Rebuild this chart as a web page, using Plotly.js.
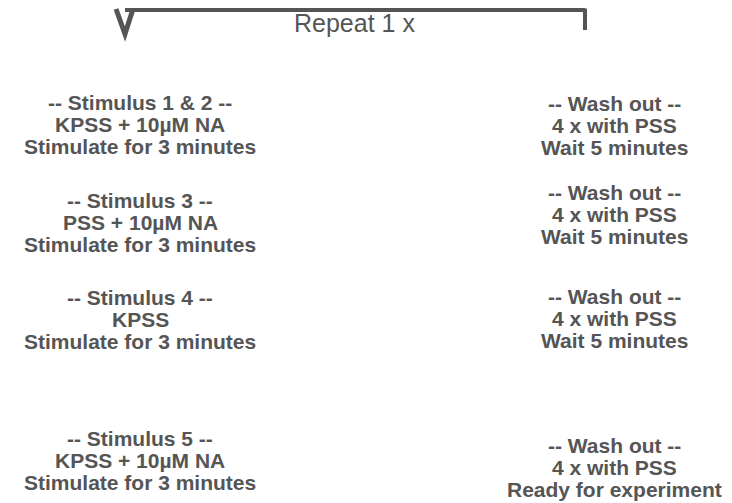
<!DOCTYPE html>
<html>
<head>
<meta charset="utf-8">
<script src="https://cdn.plot.ly/plotly-3.0.1.min.js"></script>
<style>html,body{margin:0;padding:0;background:#fff;} #chart{width:732px;height:503px;}</style>
</head>
<body>
<div id="chart"></div>
<script>
// ---- content ----
const repeatLabel = "Repeat 1 x";
const stimulusTitles = ["-- Stimulus 1 & 2 --", "-- Stimulus 3 --", "-- Stimulus 4 --", "-- Stimulus 5 --"];
const stimulusSolutions = ["KPSS + 10µM NA", "PSS + 10µM NA", "KPSS", "KPSS + 10µM NA"];
const stimulusActions = ["Stimulate for 3 minutes", "Stimulate for 3 minutes", "Stimulate for 3 minutes", "Stimulate for 3 minutes"];
const washTitles = ["-- Wash out --", "-- Wash out --", "-- Wash out --", "-- Wash out --"];
const washSolutions = ["4 x with PSS", "4 x with PSS", "4 x with PSS", "4 x with PSS"];
const washActions = ["Wait 5 minutes", "Wait 5 minutes", "Wait 5 minutes", "Ready for experiment"];

// ---- layout constants ----
const W = 732, H = 503;
const leftX = 140, rightX = 614;
const leftTop = [102, 200, 297, 438];
const rightTop = [103, 192, 296, 445];
const lineGap = 22;
const grey = "#555555";
const boldFont = {family: "Liberation Sans, Arial, sans-serif", size: 21, color: grey, weight: 700};

const annotations = [];
function block(x, y0, lines) {
  lines.forEach((t, i) => {
    annotations.push({
      x: x, y: y0 + i * lineGap, xref: "x", yref: "y",
      text: "<b>" + t + "</b>", showarrow: false,
      xanchor: "center", yanchor: "middle",
      font: boldFont
    });
  });
}
stimulusTitles.forEach((t, i) => block(leftX, leftTop[i], [t, stimulusSolutions[i], stimulusActions[i]]));
washTitles.forEach((t, i) => block(rightX, rightTop[i], [t, washSolutions[i], washActions[i]]));

annotations.push({
  x: 354, y: 23, xref: "x", yref: "y", text: repeatLabel, showarrow: false,
  xanchor: "center", yanchor: "middle",
  font: {family: "Liberation Sans, Arial, sans-serif", size: 25, color: grey}
});

const lineStyle = {color: "#555555", width: 4};
const shapes = [
  {type: "line", xref: "x", yref: "y", x0: 125, y0: 10, x1: 585, y1: 10, line: lineStyle},
  {type: "line", xref: "x", yref: "y", x0: 585, y0: 8.5, x1: 585, y1: 30, line: lineStyle},
  {type: "path", xref: "x", yref: "y", path: "M 116 9 L 125 34 L 133 9", line: {color: "#555555", width: 5}}
];

const layout = {
  width: W, height: H,
  margin: {l: 0, r: 0, t: 0, b: 0},
  paper_bgcolor: "#ffffff", plot_bgcolor: "#ffffff",
  xaxis: {range: [0, W], visible: false, fixedrange: true},
  yaxis: {range: [H, 0], visible: false, fixedrange: true},
  showlegend: false,
  annotations: annotations,
  shapes: shapes
};
Plotly.newPlot("chart", [], layout, {staticPlot: true, displayModeBar: false});
</script>
</body>
</html>
